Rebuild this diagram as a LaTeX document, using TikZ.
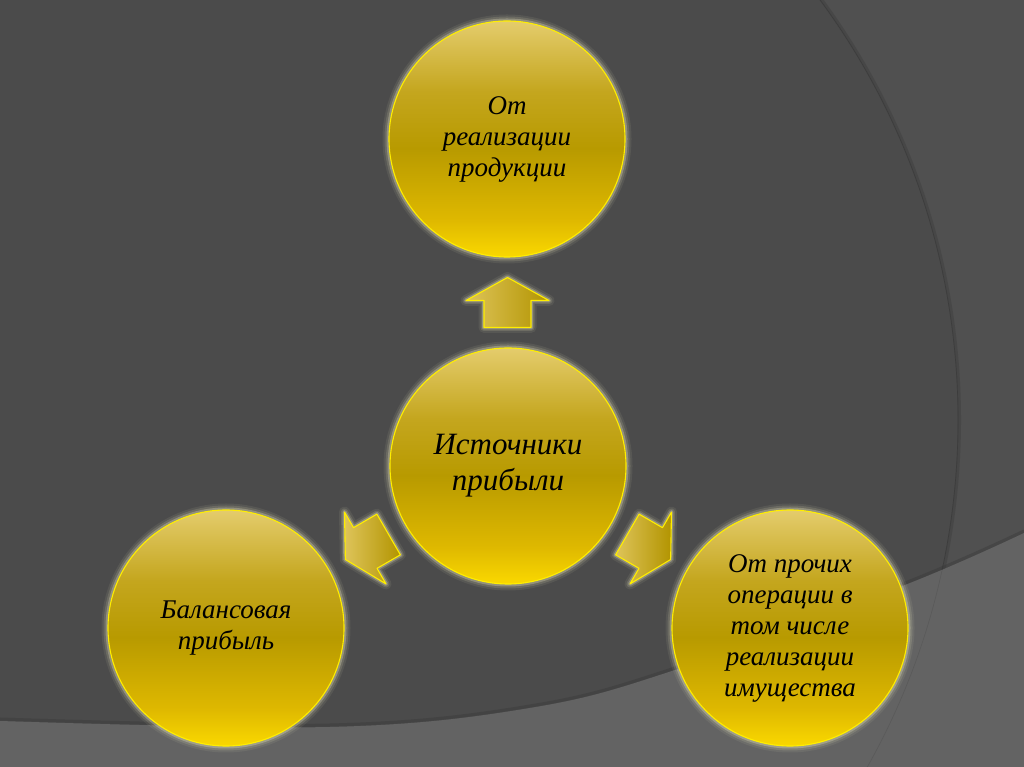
\documentclass[tikz,border=0pt]{standalone}
\usepackage{fontspec}
\setmainfont{Liberation Serif}
\usetikzlibrary{calc}
\definecolor{bgdark}{RGB}{75,75,75}
\definecolor{bgright}{RGB}{80,80,80}
\definecolor{bgband}{RGB}{99,99,99}
\definecolor{arcshadow}{RGB}{55,55,55}
\definecolor{yline}{RGB}{255,238,0}
\definecolor{glowc}{RGB}{236,232,190}
\definecolor{gbot}{RGB}{250,216,0}
\definecolor{glow2}{RGB}{222,184,0}
\definecolor{gmid}{RGB}{184,154,0}
\definecolor{gup}{RGB}{196,166,30}
\definecolor{gtop}{RGB}{228,204,108}
\definecolor{aleft}{RGB}{222,196,90}
\definecolor{aright}{RGB}{178,148,0}
\pgfdeclareverticalshading{goldsh}{100bp}{color(0bp)=(gbot); color(25bp)=(gbot); color(33bp)=(glow2); color(48bp)=(gmid); color(60bp)=(gup); color(75bp)=(gtop); color(100bp)=(gtop)}
\tikzset{
  circ/.style={circle, minimum size=236pt, inner sep=0pt, shading=goldsh,
    draw=yline, line width=1.1pt, align=center,
    font=\itshape\fontsize{27}{31}\selectfont, text=black,
    preaction={draw=glowc, line width=13pt, opacity=0.08},
    preaction={draw=glowc, line width=9pt, opacity=0.14},
    preaction={draw=glowc, line width=5pt, opacity=0.3}},
  bigcirc/.style={circ, font=\itshape\fontsize{31}{36}\selectfont},
  arrglow/.style={draw=glowc, line join=round},
  blockarr/.pic={
    \path[arrglow, line width=11pt, opacity=0.08] (-25,-23.5) -- (2,-23.5) -- (2,-41.5) -- (25,0) -- (2,41.5) -- (2,23.5) -- (-25,23.5) -- cycle;
    \path[arrglow, line width=7pt, opacity=0.15] (-25,-23.5) -- (2,-23.5) -- (2,-41.5) -- (25,0) -- (2,41.5) -- (2,23.5) -- (-25,23.5) -- cycle;
    \path[arrglow, line width=4pt, opacity=0.3] (-25,-23.5) -- (2,-23.5) -- (2,-41.5) -- (25,0) -- (2,41.5) -- (2,23.5) -- (-25,23.5) -- cycle;
    \path[left color=aleft, right color=aright, draw=yline, line width=1.1pt, line join=round]
      (-25,-23.5) -- (2,-23.5) -- (2,-41.5) -- (25,0) -- (2,41.5) -- (2,23.5) -- (-25,23.5) -- cycle;
  }
}
\begin{document}
\begin{tikzpicture}[x=1pt,y=1pt]
\useasboundingbox (0,0) rectangle (1024,767);
% background
\fill[bgdark] (0,0) rectangle (1024,767);
\begin{scope}
  \clip (0,0) rectangle (1024,767);
  \fill[bgright, even odd rule] (0,0) rectangle (1024,767) (250,347) circle[radius=708];
  \draw[arcshadow, line width=3pt, opacity=0.35] (250,347) circle[radius=709.5];
  \draw[black!80, line width=0.7pt, opacity=0.4] (250,347) circle[radius=708];
  \fill[bgband] (0,0) -- plot[smooth, tension=0.6] coordinates {(0,46) (330,40) (530,59) (675,97) (905,182) (1024,234)} -- (1024,0) -- cycle;
  \draw[arcshadow, line width=3pt, opacity=0.4] plot[smooth, tension=0.6] coordinates {(0,48) (330,42) (530,61) (675,99) (905,184) (1024,236)};
  \draw[black!80, line width=0.6pt, opacity=0.2] (250,347) circle[radius=708];
\end{scope}
% nodes
\node[circ] (top) at (507,628) {От\\реализации\\продукции};
\node[bigcirc] (c) at (508,301) {Источники\\прибыли};
\node[circ] (l) at (226,139) {Балансовая\\прибыль};
\node[circ] (r) at (790,139) {От прочих\\операции в\\том числе\\реализации\\имущества};
% block arrows between nodes
\pic[rotate=90] at ($(c)!0.5!(top)$) {blockarr};
\pic[rotate=210] at ($(c)!0.5!(l)$) {blockarr};
\pic[rotate=-30] at ($(c)!0.5!(r)$) {blockarr};
\end{tikzpicture}
\end{document}
